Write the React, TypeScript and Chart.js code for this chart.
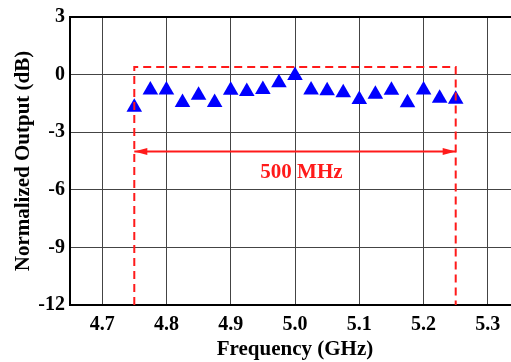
import React, { useEffect, useRef } from "react";
import { Chart, registerables } from "chart.js";

Chart.register(...registerables);

const freqGHz = [4.75, 4.775, 4.8, 4.825, 4.85, 4.875, 4.9, 4.925, 4.95, 4.975, 5.0, 5.025, 5.05, 5.075, 5.1, 5.125, 5.15, 5.175, 5.2, 5.225, 5.25];
const outputDb = [-1.7, -0.8, -0.8, -1.45, -1.08, -1.45, -0.82, -0.88, -0.78, -0.42, -0.05, -0.8, -0.84, -0.94, -1.3, -1.02, -0.82, -1.47, -0.8, -1.23, -1.28];

const xTicks = [4.7, 4.8, 4.9, 5.0, 5.1, 5.2, 5.3];
const yTicks = [-12, -9, -6, -3, 0, 3];

const boxX = [4.75, 4.75, 5.25, 5.25];
const boxY = [-12, 0.4, 0.4, -12];

const arrowX = [4.75, 5.25];
const arrowY = -4;
const bandLabel = "500 MHz";
const bandLabelX = 5.01;
const bandLabelY = -5.1;

const FONT = "'Liberation Serif', 'Times New Roman', serif";
const RED = "#ff1a1a";

const annotationPlugin = {
  id: "bandAnnot",
  afterDatasetsDraw(chart: any) {
    const { ctx, scales } = chart;
    const xs = scales.x;
    const ys = scales.y;
    const y = ys.getPixelForValue(arrowY);
    const x1 = xs.getPixelForValue(arrowX[0]);
    const x2 = xs.getPixelForValue(arrowX[1]);
    ctx.save();
    ctx.fillStyle = RED;
    const len = 13;
    const half = 3.5;
    ctx.beginPath();
    ctx.moveTo(x1, y);
    ctx.lineTo(x1 + len, y - half);
    ctx.lineTo(x1 + len, y + half);
    ctx.closePath();
    ctx.fill();
    ctx.beginPath();
    ctx.moveTo(x2, y);
    ctx.lineTo(x2 - len, y - half);
    ctx.lineTo(x2 - len, y + half);
    ctx.closePath();
    ctx.fill();
    ctx.font = `bold 21px ${FONT}`;
    ctx.textAlign = "center";
    ctx.textBaseline = "middle";
    ctx.fillText(bandLabel, xs.getPixelForValue(bandLabelX), ys.getPixelForValue(bandLabelY));
    ctx.restore();
  },
};

export default function App() {
  const ref = useRef<HTMLCanvasElement>(null);
  useEffect(() => {
    const canvas = ref.current!;
    const chart = new Chart(canvas, {
      type: "scatter",
      data: {
        datasets: [
          {
            label: "data",
            data: freqGHz.map((f, i) => ({ x: f, y: outputDb[i] })),
            pointStyle: "triangle",
            pointRadius: 9,
            backgroundColor: "#0000ff",
            borderColor: "#0000ff",
            borderWidth: 0,
            showLine: false,
            order: 2,
          },
          {
            label: "box",
            data: boxX.map((x, i) => ({ x, y: boxY[i] })),
            showLine: true,
            borderColor: RED,
            borderWidth: 2,
            borderDash: [8, 5],
            pointRadius: 0,
            fill: false,
            order: 1,
          },
          {
            label: "arrow",
            data: arrowX.map((x) => ({ x, y: arrowY })),
            showLine: true,
            borderColor: RED,
            borderWidth: 2,
            pointRadius: 0,
            fill: false,
            order: 1,
          },
        ],
      },
      options: {
        animation: false,
        responsive: false,
        layout: { padding: { left: 0, top: 15, right: 10, bottom: 0 } },
        plugins: { legend: { display: false }, tooltip: { enabled: false } },
        scales: {
          x: {
            type: "linear",
            min: 4.65,
            max: 5.35,
            afterBuildTicks: (s: any) => {
              s.ticks = xTicks.map((v) => ({ value: v }));
            },
            afterFit: (s: any) => {
              s.height = 57;
            },
            ticks: {
              color: "#000",
              font: { family: FONT, size: 20, weight: "bold" },
              padding: 8,
              maxRotation: 0,
              callback: (v: any) => Number(v).toFixed(1),
            },
            grid: { color: "#444", lineWidth: 1, drawTicks: false },
            border: { color: "#000", width: 2 },
            title: {
              display: true,
              text: "Frequency (GHz)",
              color: "#000",
              font: { family: FONT, size: 21, weight: "bold" },
              padding: { top: 0, bottom: 0 },
            },
          },
          xTop: {
            type: "linear",
            position: "top",
            min: 4.65,
            max: 5.35,
            display: true,
            ticks: { display: false },
            grid: { display: false, drawTicks: false },
            border: { color: "#000", width: 2 },
            afterFit: (s: any) => {
              s.height = 0;
            },
          },
          y: {
            type: "linear",
            min: -12,
            max: 3,
            afterBuildTicks: (s: any) => {
              s.ticks = yTicks.map((v) => ({ value: v }));
            },
            afterFit: (s: any) => {
              s.width = 70;
            },
            ticks: {
              color: "#000",
              font: { family: FONT, size: 20, weight: "bold" },
              padding: 5,
            },
            grid: { color: "#444", lineWidth: 1, drawTicks: false },
            border: { color: "#000", width: 2 },
            title: {
              display: true,
              text: "Normalized Output (dB)",
              color: "#000",
              font: { family: FONT, size: 21, weight: "bold" },
              padding: { top: 11, bottom: 0 },
            },
          },
        },
      },
      plugins: [annotationPlugin],
    } as any);
    return () => chart.destroy();
  }, []);
  return (
    <div style={{ position: "absolute", left: 0, top: 0, width: 511, height: 362, overflow: "hidden", background: "#fff" }}>
      <canvas ref={ref} width={530} height={362} style={{ width: 530, height: 362, display: "block" }} />
    </div>
  );
}
